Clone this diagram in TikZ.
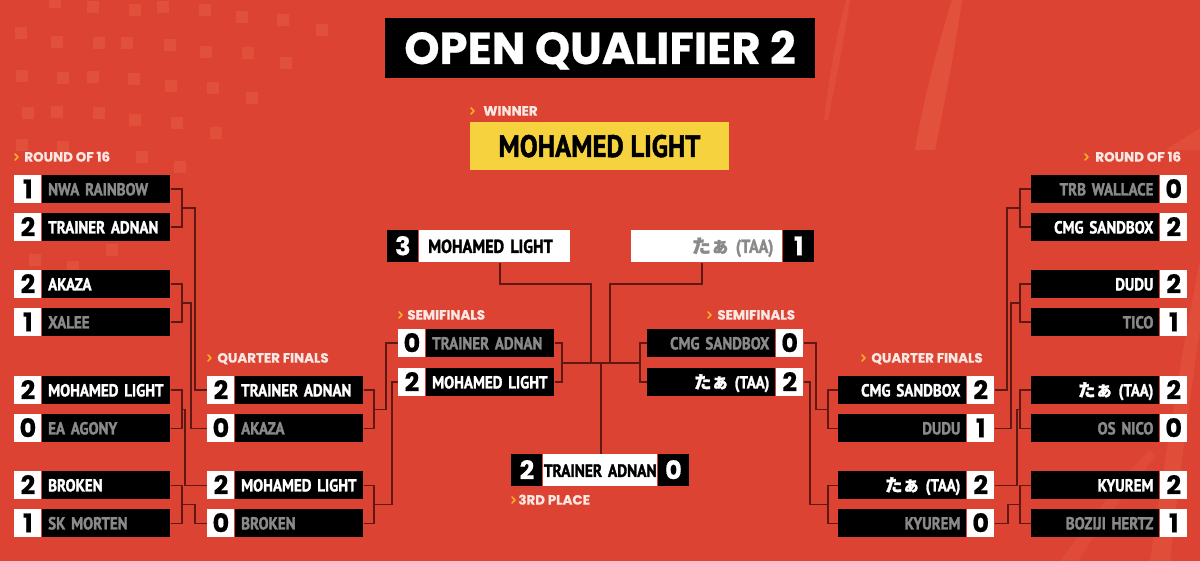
\documentclass[tikz,border=0pt]{standalone}
\usepackage{fontspec}
\newfontfamily\namefont{PT Sans}[FakeStretch=0.86, BoldFeatures={FakeBold=1.6}]
\newfontfamily\headfont{Poppins}[BoldFeatures={FakeBold=0.6}]
\newfontfamily\cjk{Noto Sans CJK JP}[BoldFeatures={FakeBold=1.2}]
\usetikzlibrary{calc}
\definecolor{bg}{RGB}{220,67,51}
\definecolor{bgl}{RGB}{232,96,70}
\definecolor{wire}{RGB}{95,24,18}
\definecolor{loser}{RGB}{138,138,138}
\definecolor{gold}{RGB}{246,211,62}
\definecolor{chev}{RGB}{250,172,40}
\definecolor{lbl}{RGB}{252,232,226}
\tikzset{
  sbox/.style={fill=white, minimum width=13.5pt, minimum height=14pt, inner sep=0pt,
    text height=8.8pt, text depth=0pt, text=black,
    font=\headfont\bfseries\fontsize{12.8}{13}\selectfont, anchor=north west},
  nbox/.style={fill=black, minimum height=14pt, text width=58pt, inner xsep=3pt, inner ysep=0pt,
    text height=6pt, text depth=0pt, font=\namefont\bfseries\fontsize{8.7}{10}\selectfont, anchor=north west},
  winr/.style={text=white},
  lose/.style={text=loser},
  fsbox/.style={fill=black, text=white, minimum width=15.5pt, minimum height=16pt, inner sep=0pt,
    text height=8.8pt, text depth=0pt, font=\headfont\bfseries\fontsize{12.8}{13}\selectfont, anchor=north west},
  fnbox/.style={fill=white, minimum height=16pt, text width=75.5pt, inner xsep=0pt, inner ysep=0pt,
    text height=6.5pt, text depth=0pt, font=\namefont\bfseries\fontsize{9.4}{10}\selectfont, anchor=north west},
  lab/.style={anchor=west, inner sep=0pt, text=lbl, text height=4.6pt, text depth=0pt,
    font=\headfont\bfseries\fontsize{6.7}{7}\selectfont},
  chevr/.style={draw=chev, line width=0.75pt, line cap=round, line join=round},
  wire/.style={draw=wire, line width=0.9pt},
  sq/.style={fill=bgl, fill opacity=0.45}
}
\newcommand\mkL[6]{%
  \node[sbox] (#1s) at (#2,#3) {#4};
  \node[nbox,#6,align=left] (#1n) at (#1s.north east) {\mbox{#5}};}
\newcommand\mkR[6]{%
  \node[nbox,#6,align=right] (#1n) at (#2,#3) {\mbox{#5}};
  \node[sbox] (#1s) at (#1n.north east) {#4};}
\newcommand\chevat[2]{\draw[chevr] (#1,#2-3) -- (#1+3,#2) -- (#1,#2+3);}
\newcommand\taa{{\cjk たぁ} (TAA)}
\begin{document}
\begin{tikzpicture}[x=0.5pt,y=-0.5pt]
\fill[bg] (0,0) rectangle (1200,561);
\useasboundingbox (0,0) rectangle (1200,561);
% background decoration: faint squares (left) and swooshes (right)
\foreach \px/\py in {21/33,57/42,99/43,127/43,170/45,206/52,248/53,286/63,322/30,283/20,242/17,205/10,163/7,135/10,93/7,55/2,
  22/76,63/78,93/77,134/79,171/86,213/88,252/98,28/113,57/112,99/113,135/120,177/123,216/133,22/145,63/147,142/157,180/167,35/260,73/267,112/250}
  {\fill[sq] (\px-6,\py-6) rectangle (\px+6,\py+6);}
\fill[bgl, fill opacity=0.5] (915,150) .. controls (925,90) and (940,40) .. (952,0) -- (962,0) .. controls (955,50) and (945,100) .. (935,150) -- cycle;
\fill[bgl, fill opacity=0.4] (824,120) .. controls (830,70) and (838,30) .. (846,0) -- (850,0) .. controls (844,40) and (836,80) .. (828,120) -- cycle;
\fill[bgl, fill opacity=0.35] (1150,561) .. controls (1165,460) and (1180,360) .. (1200,260) -- (1200,330) .. controls (1188,410) and (1178,490) .. (1170,561) -- cycle;
\fill[bgl, fill opacity=0.35] (1165,150) .. controls (1180,140) and (1190,135) .. (1200,128) -- (1200,150) -- cycle;
\fill[bgl, fill opacity=0.3] (1060,561) .. controls (1090,520) and (1120,480) .. (1150,450) -- (1156,456) .. controls (1128,490) and (1100,525) .. (1078,561) -- cycle;

% title and winner
\node[fill=black, minimum width=215pt, minimum height=30pt, inner sep=0pt, text=white,
  text height=16pt, text depth=0pt, font=\headfont\bfseries\fontsize{22.4}{24}\selectfont] (title) at (600,48) {OPEN QUALIFIER 2};
\chevat{471}{111}
\node[lab] (lwin) at (483,111) {WINNER};
\node[fill=gold, minimum width=129.5pt, minimum height=24pt, inner sep=0pt, text=black,
  text height=11pt, text depth=0pt, font=\namefont\bfseries\fontsize{15.5}{16}\selectfont] (winner) at (599.5,146) {MOHAMED LIGHT};

% section labels
\chevat{15}{157}   \node[lab] (lr16l) at (24,157) {ROUND OF 16};
\chevat{208}{358}  \node[lab] (lqfl) at (217,358) {QUARTER FINALS};
\chevat{399}{315}  \node[lab] (lsfl) at (407,315) {SEMIFINALS};
\chevat{512}{500}  \node[lab] (l3rd) at (518,500) {3RD PLACE};
\chevat{708}{315}  \node[lab] (lsfr) at (717,315) {SEMIFINALS};
\chevat{862}{358}  \node[lab] (lqfr) at (871,358) {QUARTER FINALS};
\chevat{1085}{157} \node[lab] (lr16r) at (1095,157) {ROUND OF 16};

% left round of 16
\mkL{a1}{14}{175}{1}{NWA RAINBOW}{lose}
\mkL{a2}{14}{213}{2}{TRAINER ADNAN}{winr}
\mkL{a3}{14}{270}{2}{AKAZA}{winr}
\mkL{a4}{14}{308}{1}{XALEE}{lose}
\mkL{a5}{14}{376}{2}{MOHAMED LIGHT}{winr}
\mkL{a6}{14}{414}{0}{EA AGONY}{lose}
\mkL{a7}{14}{471}{2}{BROKEN}{winr}
\mkL{a8}{14}{509}{1}{SK MORTEN}{lose}
% left quarter finals
\mkL{b1}{207}{376}{2}{TRAINER ADNAN}{winr}
\mkL{b2}{207}{414}{0}{AKAZA}{lose}
\mkL{b3}{207}{471}{2}{MOHAMED LIGHT}{winr}
\mkL{b4}{207}{509}{0}{BROKEN}{lose}
% left semifinals
\mkL{c1}{398}{329}{0}{TRAINER ADNAN}{lose}
\mkL{c2}{398}{368}{2}{MOHAMED LIGHT}{winr}
% right round of 16
\mkR{e1}{1031}{175}{0}{TRB WALLACE}{lose}
\mkR{e2}{1031}{213}{2}{CMG SANDBOX}{winr}
\mkR{e3}{1031}{270}{2}{DUDU}{winr}
\mkR{e4}{1031}{308}{1}{TICO}{lose}
\mkR{e5}{1031}{376}{2}{\taa}{winr}
\mkR{e6}{1031}{414}{0}{OS NICO}{lose}
\mkR{e7}{1031}{471}{2}{KYUREM}{winr}
\mkR{e8}{1031}{509}{1}{BOZIJI HERTZ}{lose}
% right quarter finals
\mkR{f1}{838}{376}{2}{CMG SANDBOX}{winr}
\mkR{f2}{838}{414}{1}{DUDU}{lose}
\mkR{f3}{838}{471}{2}{\taa}{winr}
\mkR{f4}{838}{509}{0}{KYUREM}{lose}
% right semifinals
\mkR{d1}{647}{329}{0}{CMG SANDBOX}{lose}
\mkR{d2}{647}{368}{2}{\taa}{winr}

% grand final
\node[fsbox] (fLs) at (387,230) {3};
\node[fnbox, text=black, align=left, text width=66.5pt, inner xsep=4.5pt] (fLn) at (fLs.north east) {\mbox{MOHAMED LIGHT}};
\node[fnbox, text=loser, align=right, text width=66.5pt, inner xsep=4.5pt] (fRn) at (631,230) {\mbox{\taa}};
\node[fsbox] (fRs) at (fRn.north east) {1};
% third place
\node[fsbox] (tLs) at (511,454) {2};
\node[fnbox, text=black, align=center, text width=57pt, font=\namefont\bfseries\fontsize{8.9}{10}\selectfont] (tn) at (tLs.north east) {\mbox{TRAINER ADNAN}};
\node[fsbox] (tRs) at (tn.north east) {0};

% connectors, left
\draw[wire] (a1n.east) -- ++(11,0) |- (a2n.east);
\draw[wire] (a3n.east) -- ++(11,0) |- (a4n.east);
\draw[wire] (a5n.east) -- ++(11,0) |- (a6n.east);
\draw[wire] (a7n.east) -- ++(11,0) |- (a8n.east);
\coordinate (g1) at ($(a1n.east)!0.5!(a2n.east)+(11,0)$);
\coordinate (g2) at ($(a3n.east)!0.5!(a4n.east)+(11,0)$);
\coordinate (g3) at ($(a5n.east)!0.5!(a6n.east)+(11,0)$);
\coordinate (g4) at ($(a7n.east)!0.5!(a8n.east)+(11,0)$);
\draw[wire] (g1) -- ++(13,0) |- (b1s.west);
\draw[wire] (g2) -- ++(9,0) |- (b2s.west);
\draw[wire] (g3) -- ++(3,0) |- (b3s.west);
\draw[wire] (g4) -- ++(13,0) |- (b4s.west);
\draw[wire] (b1n.east) -- ++(10,0) |- (b2n.east);
\draw[wire] (b3n.east) -- ++(10,0) |- (b4n.east);
\coordinate (h1) at ($(b1n.east)!0.5!(b2n.east)+(10,0)$);
\coordinate (h2) at ($(b3n.east)!0.5!(b4n.east)+(10,0)$);
\draw[wire] (h1) -- ++(12,0) |- (c1s.west);
\draw[wire] (h2) -- ++(18,0) |- (c2s.west);
\draw[wire] (c1n.east) -- ++(7,0) |- (c2n.east);
\coordinate (sfL) at ($(c1n.east)!0.5!(c2n.east)+(7,0)$);

% connectors, right
\draw[wire] (e1n.west) -- ++(-11,0) |- (e2n.west);
\draw[wire] (e3n.west) -- ++(-11,0) |- (e4n.west);
\draw[wire] (e5n.west) -- ++(-11,0) |- (e6n.west);
\draw[wire] (e7n.west) -- ++(-11,0) |- (e8n.west);
\coordinate (k1) at ($(e1n.west)!0.5!(e2n.west)+(-11,0)$);
\coordinate (k2) at ($(e3n.west)!0.5!(e4n.west)+(-11,0)$);
\coordinate (k3) at ($(e5n.west)!0.5!(e6n.west)+(-11,0)$);
\coordinate (k4) at ($(e7n.west)!0.5!(e8n.west)+(-11,0)$);
\draw[wire] (k1) -- ++(-13,0) |- (f1s.east);
\draw[wire] (k2) -- ++(-9,0) |- (f2s.east);
\draw[wire] (k3) -- ++(-3,0) |- (f3s.east);
\draw[wire] (k4) -- ++(-12,0) |- (f4s.east);
\draw[wire] (f1n.west) -- ++(-10,0) |- (f2n.west);
\draw[wire] (f3n.west) -- ++(-10,0) |- (f4n.west);
\coordinate (m1) at ($(f1n.west)!0.5!(f2n.west)+(-10,0)$);
\coordinate (m2) at ($(f3n.west)!0.5!(f4n.west)+(-10,0)$);
\draw[wire] (m1) -- ++(-12,0) |- (d1s.east);
\draw[wire] (m2) -- ++(-18,0) |- (d2s.east);
\draw[wire] (d1n.west) -- ++(-7,0) |- (d2n.west);
\coordinate (sfR) at ($(d1n.west)!0.5!(d2n.west)+(-7,0)$);

% centre
\draw[wire] (sfL) -- (sfR);
\draw[wire] ($(fLn.south)+(5,0)$) -- ++(0,21) -| ($(sfL)+(29,0)$);
\draw[wire] ($(fRn.south)+(-5,0)$) -- ++(0,21) -| ($(sfR)+(-30,0)$);
\coordinate (ctr) at ($(sfL)!0.5!(sfR)$);
\draw[wire] (ctr) -- (ctr |- tn.north);
\end{tikzpicture}
\end{document}
